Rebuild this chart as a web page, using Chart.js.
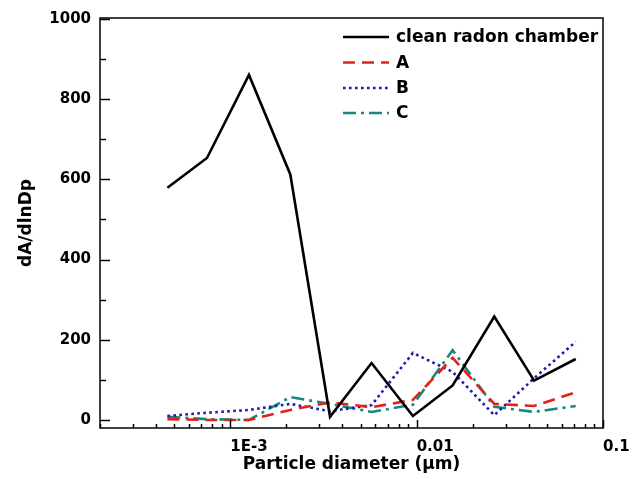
<!DOCTYPE html>
<html>
<head>
<meta charset="utf-8">
<script src="https://cdn.jsdelivr.net/npm/chart.js@4.4.1/dist/chart.umd.min.js"></script>
<style>
  html, body { margin: 0; padding: 0; background: #fff; }
  #caixa { width: 634px; height: 479px; }
</style>
</head>
<body>
<div id="caixa"><canvas id="grafico"></canvas></div>
<script>
// diâmetro das partículas (µm) e dA/dlnDp de cada medida
const diametros = [4.6e-4, 7.5e-4, 1.26e-3, 2.1e-3, 3.43e-3, 5.73e-3, 9.55e-3, 0.0156, 0.0261, 0.0427, 0.0714];
const camaraLimpa = [579, 653, 860, 612, 8, 142, 10, 86, 258, 98, 152];
const serieA = [2, 0, 0, 25, 44, 32, 50, 155, 40, 35, 69];
const serieB = [10, 18, 25, 40, 22, 37, 167, 120, 12, 104, 195];
const serieC = [8, 2, 0, 57, 40, 20, 38, 174, 33, 20, 35];

const ticksX = [0.001, 0.01, 0.1];
const rotulosX = ['1E-3', '0.01', '0.1'];
const ticksY = [0, 200, 400, 600, 800, 1000];

const fonte = 'DejaVu Sans';

function pontos(valores) {
  return diametros.map((d, i) => ({ x: d, y: valores[i] }));
}

// moldura + ticks para dentro, como no Origin
const molduraTicks = {
  id: 'molduraTicks',
  afterDatasetsDraw(chart) {
    const { ctx, chartArea: a, scales } = chart;
    const sx = scales.x, sy = scales.y;
    ctx.save();
    ctx.strokeStyle = '#000';
    ctx.lineWidth = 1.5;
    ctx.strokeRect(a.left, a.top, a.right - a.left, a.bottom - a.top);

    ctx.beginPath();
    for (let dec = -4; dec <= -1; dec++) {
      for (let k = 1; k <= 9; k++) {
        const v = k * Math.pow(10, dec);
        if (v < sx.min || v > sx.max) continue;
        const px = Math.round(sx.getPixelForValue(v)) + 0.5;
        const len = k === 1 ? 8 : 4;
        ctx.moveTo(px, a.bottom);
        ctx.lineTo(px, a.bottom - len);
      }
    }
    for (let v = 0; v <= 1000; v += 100) {
      const py = Math.round(sy.getPixelForValue(v)) + 0.5;
      const len = v % 200 === 0 ? 10 : 6;
      ctx.moveTo(a.left, py);
      ctx.lineTo(a.left + len, py);
    }
    ctx.stroke();
    ctx.restore();
  }
};

// legenda dentro da área do gráfico
const legendaInterna = {
  id: 'legendaInterna',
  afterDatasetsDraw(chart) {
    const { ctx } = chart;
    const x0 = 343, x1 = 389, xt = 396;
    const linhas = [37, 62.5, 88, 113];
    ctx.save();
    chart.data.datasets.forEach((ds, i) => {
      const y = linhas[i];
      ctx.strokeStyle = ds.borderColor;
      ctx.lineWidth = ds.borderWidth;
      ctx.setLineDash(ds.borderDash || []);
      ctx.beginPath();
      ctx.moveTo(x0, y);
      ctx.lineTo(x1, y);
      ctx.stroke();
      ctx.setLineDash([]);
      ctx.fillStyle = '#000';
      ctx.font = 'bold 17px "' + fonte + '"';
      ctx.textBaseline = 'middle';
      ctx.fillText(ds.label, xt, y + 1);
    });
    ctx.restore();
  }
};

const ctx = document.getElementById('grafico');

new Chart(ctx, {
  type: 'line',
  data: {
    datasets: [
      {
        label: 'clean radon chamber',
        data: pontos(camaraLimpa),
        borderColor: '#000000',
        borderWidth: 2.6,
        borderDash: []
      },
      {
        label: 'A',
        data: pontos(serieA),
        borderColor: '#e3201c',
        borderWidth: 2.6,
        borderDash: [12, 7]
      },
      {
        label: 'B',
        data: pontos(serieB),
        borderColor: '#1c1caa',
        borderWidth: 2.6,
        borderDash: [2.6, 3.4]
      },
      {
        label: 'C',
        data: pontos(serieC),
        borderColor: '#17877f',
        borderWidth: 2.6,
        borderDash: [13, 5, 3, 5]
      }
    ]
  },
  options: {
    responsive: true,
    maintainAspectRatio: false,
    animation: false,
    devicePixelRatio: 1,
    layout: { padding: { top: 16, right: 31, left: 0, bottom: 0 } },
    elements: {
      point: { radius: 0, hoverRadius: 0 },
      line: { tension: 0, fill: false }
    },
    plugins: {
      legend: { display: false },
      tooltip: { enabled: false }
    },
    scales: {
      x: {
        type: 'logarithmic',
        min: 2e-4,
        max: 0.1,
        grid: { display: false, drawTicks: false },
        border: { display: false },
        afterBuildTicks(scale) {
          scale.ticks = ticksX.map(v => ({ value: v }));
        },
        afterFit(scale) {
          scale.height = 51;
          scale.paddingRight = 0;
          scale.paddingLeft = 0;
        },
        ticks: {
          autoSkip: false,
          maxRotation: 0,
          align: 'start',
          padding: 10,
          color: '#000',
          font: { family: fonte, size: 15, weight: 'bold' },
          callback: (v) => rotulosX[ticksX.indexOf(v)] ?? ''
        },
        title: {
          display: true,
          text: 'Particle diameter (μm)',
          color: '#000',
          padding: { top: 0, bottom: 4 },
          font: { family: fonte, size: 17, weight: 'bold' }
        }
      },
      y: {
        min: -20,
        max: 1002,
        grid: { display: false, drawTicks: false },
        border: { display: false },
        afterBuildTicks(scale) {
          scale.ticks = ticksY.map(v => ({ value: v }));
        },
        afterFit(scale) {
          scale.width = 100;
        },
        ticks: {
          padding: 9,
          color: '#000',
          font: { family: fonte, size: 15, weight: 'bold' },
          callback: (v) => String(v)
        },
        title: {
          display: true,
          text: 'dA/dlnDp',
          color: '#000',
          padding: { top: 16, bottom: 0 },
          font: { family: fonte, size: 17, weight: 'bold' }
        }
      }
    }
  },
  plugins: [molduraTicks, legendaInterna]
});
</script>
</body>
</html>
